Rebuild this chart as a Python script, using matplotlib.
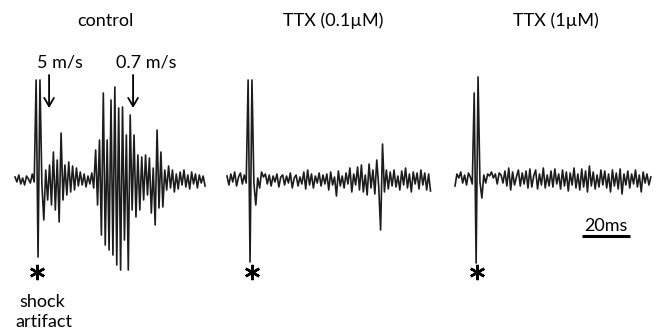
import matplotlib
matplotlib.use('Agg')
import matplotlib.pyplot as plt
import numpy as np

plt.rcParams['font.family'] = ['Lato', 'DejaVu Sans']

# recorded traces, amplitude in arbitrary units (up = positive), one sample per 0.8 ms
DT_MS = 0.8

control = [3, -2, 5, -4, 2, -5, 4, 1, -3, 6, -2,
           100, -77, 100, -4, -40, 10, -20, 15, -25,
           28, -30, 20, -42, 47, -20, 15, -15, 18, -12,
           14, -10, 12, -6, 8, -5, 6, -7, 4, -4,
           7, -8, 30, -25, 40, -55, 87, -65, 40, -70,
           80, -75, 93, -85, 72, -90, 73, -60, 45, -90,
           65, -30, 45, -37, 25, -30, 23, -20, 25, -15,
           22, -33, 12, -45, 50, -28, 28, -27, 10, -10,
           14, -8, 10, -12, 6, -9, 8, -5, 10, -7,
           5, -9, 8, -4, 6, -8, 5, -3, 4, -6]

ttx_01 = [4, -5, 6, -2, 8, -6, 3, 7, -4, 5, -3,
          100, -82, 100, -3, -25, 2, -8, 8, 3,
          6, -4, 5, -6, 4, -2, 6, -7, 3, 5,
          -5, 4, -3, 7, -8, 2, 5, -6, 3, -4,
          8, -9, 10, -5, 6, -8, 4, -3, 7, -6,
          5, -4, 6, -10, 8, -5, 3, -16, 9, -6,
          4, -8, 7, -4, 12, -12, 6, -5, 13, -10,
          15, -12, 5, -15, 16, -8, 10, -14, 20, -6,
          -50, 36, -12, 10, -9, 8, -6, 10, -7, 4,
          -10, 9, -5, 12, -8, 6, -12, 8, -4, 7,
          -9, 10, -5, 7, -10, 6, -11]

ttx_1 = [-6, 6, 2, 8, -3, 5, -5, 7, 3, -4,
         87, -83, 103, -2, -18, 5, -3, 6, 4, 8,
         2, 6, -4, 7, 5, -3, 9, -6, 12, -10,
         8, -5, 3, 10, -6, 7, -4, 9, -8, 11,
         -7, 4, 10, -9, 6, -5, 12, -8, 5, -6,
         9, -7, 11, -4, 6, -9, 10, -6, 8, -11,
         7, -5, 12, -8, 6, -10, 11, -7, 9, -12,
         14, -6, 8, -9, 5, -7, 10, -5, 9, -8,
         6, -12, 10, -6, 7, -9, 11, -14, 6, -5,
         9, -8, 6, -4, 10, -7, 5, -12, 8, -3,
         6, -5, 3]

titles = ['control', 'TTX (0.1\u00b5M)', 'TTX (1\u00b5M)']
velocities = ['5 m/s', '0.7 m/s']
velocity_ms = [14.2, 49.2]   # arrow times after trace start (ms)
scale_ms = 20

# layout in figure pixels
PX_PER_MS = 2.4
trace_x0 = [15, 227, 455]
baseline = 180
title_x = [105, 333, 556]
artifact_ms = [9.2, 10.4, 9.2]
FS = 13

fig = plt.figure(figsize=(6.6, 3.31), dpi=100)
ax = fig.add_axes([0, 0, 1, 1])
ax.set_xlim(0, 660)
ax.set_ylim(331, 0)
ax.axis('off')

for tr, x0, tx, title, am in zip([control, ttx_01, ttx_1], trace_x0, title_x,
                                 titles, artifact_ms):
    v = np.array(tr, dtype=float)
    t = np.arange(len(v)) * DT_MS
    ax.plot(x0 + t * PX_PER_MS, baseline - v, color='#1c1c1c', lw=1.2)
    ax.text(tx, 21, title, ha='center', va='center', fontsize=FS)
    # asterisk under the shock artifact
    ax.plot(x0 + am * PX_PER_MS, 272, marker=(6, 2, 0),
            ms=11, mew=1.8, color='black')

# conduction velocity arrows on the control trace
for lab, ms, tx in zip(velocities, velocity_ms, [60, 146]):
    xa = trace_x0[0] + ms * PX_PER_MS
    ax.text(tx, 62, lab, ha='center', va='center', fontsize=FS)
    ax.annotate('', xy=(xa, 108), xytext=(xa, 75),
                arrowprops=dict(arrowstyle='->,head_length=0.6,head_width=0.35',
                                lw=1.3, color='black', shrinkA=0, shrinkB=0))

ax.text(42, 302, 'shock', ha='center', va='center', fontsize=FS)
ax.text(44, 322, 'artifact', ha='center', va='center', fontsize=FS)

# scale bar
bar_x0 = 582
ax.plot([bar_x0, bar_x0 + scale_ms * PX_PER_MS], [236, 236], color='black',
        lw=2.2, solid_capstyle='butt')
ax.text(bar_x0 + scale_ms * PX_PER_MS / 2, 226, '%dms' % scale_ms,
        ha='center', va='center', fontsize=FS)

fig.savefig('out.png', dpi=100)
